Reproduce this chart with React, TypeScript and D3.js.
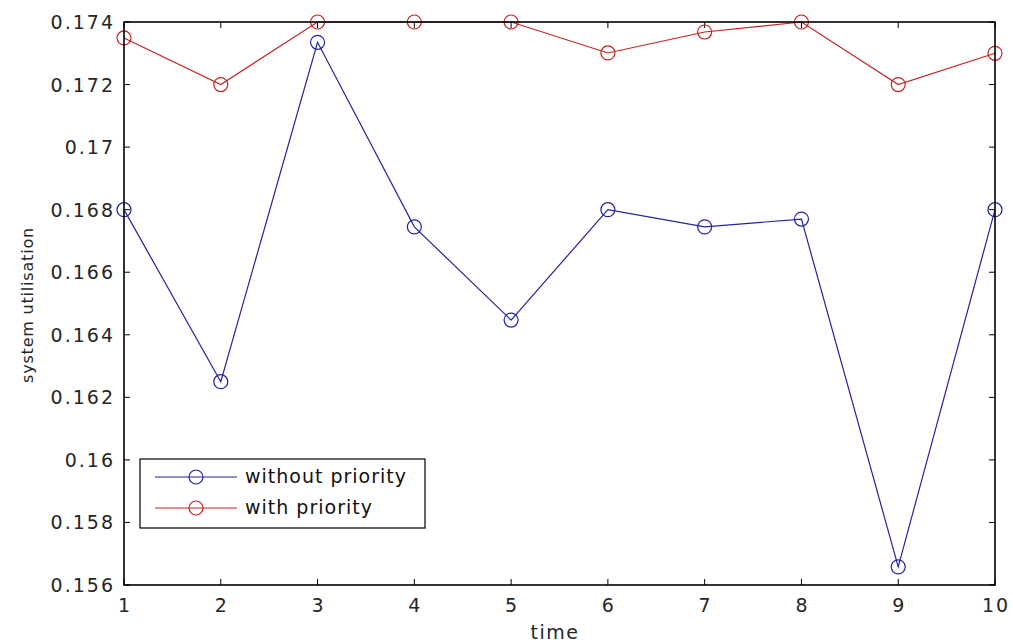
import React from "react";
import * as d3 from "d3";

const timeSteps = [1, 2, 3, 4, 5, 6, 7, 8, 9, 10];
const withoutPriority = [0.168, 0.1625, 0.17335, 0.16745, 0.16447, 0.168, 0.16745, 0.1677, 0.15658, 0.168];
const withPriority = [0.17349, 0.172, 0.174, 0.174, 0.174, 0.17301, 0.17368, 0.174, 0.172, 0.173];
const xTicks = [1, 2, 3, 4, 5, 6, 7, 8, 9, 10];
const yTicks = [0.156, 0.158, 0.16, 0.162, 0.164, 0.166, 0.168, 0.17, 0.172, 0.174];
const seriesNames = ["without priority", "with priority"];
const seriesColors = ["#23239e", "#c42222"];

const W = 1013;
const H = 644;
const left = 124;
const right = 995;
const top = 22;
const bottom = 585;
const font = "'DejaVu Sans', sans-serif";
const textColor = "#262626";

export default function App() {
  const x = d3.scaleLinear().domain([1, 10]).range([left, right]);
  const y = d3.scaleLinear().domain([0.156, 0.174]).range([bottom, top]);
  const line = d3
    .line<number>()
    .x((_, i) => x(timeSteps[i]))
    .y((d) => y(d));
  const series = [withoutPriority, withPriority];
  const tickLen = 6;

  const legX = 140;
  const legY = 459;
  const legW = 285;
  const legH = 69;

  return (
    <svg
      width={W}
      height={H}
      style={{ position: "absolute", left: 0, top: 0, background: "#fff" }}
      fontFamily={font}
    >
      <rect x={0} y={0} width={W} height={H} fill="#fff" />
      {/* tick marks on all four sides, pointing inward */}
      {xTicks.map((t) => (
        <g key={"xt" + t} stroke="#000" strokeWidth={1}>
          <line x1={x(t)} x2={x(t)} y1={bottom} y2={bottom - tickLen} />
          <line x1={x(t)} x2={x(t)} y1={top} y2={top + tickLen} />
        </g>
      ))}
      {yTicks.map((t) => (
        <g key={"yt" + t} stroke="#000" strokeWidth={1}>
          <line x1={left} x2={left + tickLen} y1={y(t)} y2={y(t)} />
          <line x1={right} x2={right - tickLen} y1={y(t)} y2={y(t)} />
        </g>
      ))}
      {/* data */}
      {series.map((s, si) => (
        <g key={"s" + si}>
          <path d={line(s) || ""} fill="none" stroke={seriesColors[si]} strokeWidth={1.2} />
          {s.map((v, i) => (
            <circle
              key={i}
              cx={x(timeSteps[i])}
              cy={y(v)}
              r={7}
              fill="none"
              stroke={seriesColors[si]}
              strokeWidth={1.2}
            />
          ))}
        </g>
      ))}
      {/* axes box */}
      <rect x={left} y={top} width={right - left} height={bottom - top} fill="none" stroke="#000" strokeWidth={1.6} />
      {/* tick labels */}
      {xTicks.map((t) => (
        <text key={"xl" + t} x={x(t) + 1} y={bottom + 27} textAnchor="middle" fontSize={19} letterSpacing={2} fill={textColor}>
          {t}
        </text>
      ))}
      {yTicks.map((t) => (
        <text key={"yl" + t} x={left - 9} y={y(t) + 7} textAnchor="end" fontSize={19} letterSpacing={2} fill={textColor}>
          {d3.format("")(+t.toFixed(3))}
        </text>
      ))}
      <text x={555} y={639} textAnchor="middle" fontSize={19} letterSpacing={1.5} fill={textColor}>
        time
      </text>
      <text
        transform={`translate(33,305) rotate(-90)`}
        textAnchor="middle"
        fontSize={16}
        letterSpacing={0.8}
        fill={textColor}
      >
        system utilisation
      </text>
      {/* legend */}
      <rect x={legX} y={legY} width={legW} height={legH} fill="#fff" stroke="#000" strokeWidth={1.2} />
      {seriesNames.map((n, i) => {
        const ly = legY + 18 + i * 31;
        return (
          <g key={"lg" + i}>
            <line x1={legX + 15} x2={legX + 97} y1={ly} y2={ly} stroke={seriesColors[i]} strokeWidth={1.2} />
            <circle cx={legX + 56} cy={ly} r={7} fill="none" stroke={seriesColors[i]} strokeWidth={1.2} />
            <text x={legX + 105} y={ly + 6} fontSize={19} letterSpacing={1} fill="#111">
              {n}
            </text>
          </g>
        );
      })}
    </svg>
  );
}
